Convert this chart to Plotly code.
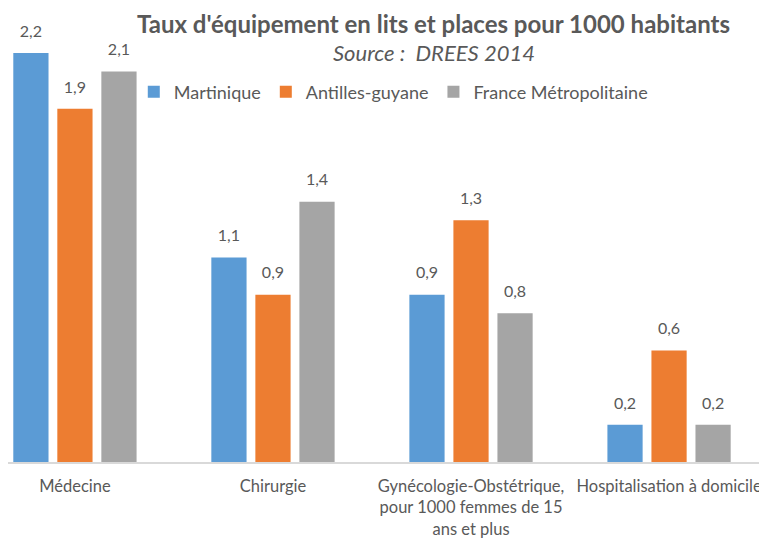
import plotly.graph_objects as go

# catégories et valeurs (lits et places pour 1000 habitants)
categories = ["Médecine", "Chirurgie",
              "Gynécologie-Obstétrique,<br>pour 1000 femmes de 15<br>ans et plus",
              "Hospitalisation à domicile"]
martinique = [2.2, 1.1, 0.9, 0.2]
antilles_guyane = [1.9, 0.9, 1.3, 0.6]
france_metro = [2.1, 1.4, 0.8, 0.2]

series = [("Martinique", martinique, "#5B9BD5"),
          ("Antilles-guyane", antilles_guyane, "#ED7D31"),
          ("France Métropolitaine", france_metro, "#A5A5A5")]

font_family = "Lato, 'Open Sans', sans-serif"
text_grey = "#595959"

fig = go.Figure()
for name, vals, color in series:
    fig.add_trace(go.Bar(
        x=categories, y=vals, name=name,
        marker=dict(color=color, line=dict(width=0)),
        hoverinfo="x+y+name",
    ))

# étiquettes de valeurs un peu au-dessus des barres (scatter groupé comme les barres)
for name, vals, color in series:
    fig.add_trace(go.Scatter(
        x=categories, y=vals, mode="markers+text",
        text=[f"{v:.1f}".replace(".", ",") for v in vals],
        textposition="top center",
        textfont=dict(size=16, color=text_grey, family=font_family),
        marker=dict(size=18, opacity=0),
        showlegend=False, hoverinfo="skip", cliponaxis=False,
    ))

# la page html a une marge de 8px, on compense dans les plages d'axes
fig.update_layout(
    width=767, height=540,
    margin=dict(l=0, r=0, t=0, b=86),
    plot_bgcolor="white", paper_bgcolor="white",
    font=dict(family=font_family, color=text_grey, size=16),
    barmode="group", bargap=0.333, bargroupgap=0.2,
    scattermode="group", scattergap=0.333,
    showlegend=True,
    legend=dict(orientation="h", x=0.164, y=0.815, xanchor="left", yanchor="middle",
                font=dict(size=18, color=text_grey), bgcolor="rgba(0,0,0,0)"),
    annotations=[
        dict(text="<b>Taux d'équipement en lits et places pour 1000 habitants</b>",
             x=0.555, y=0.965, xref="paper", yref="paper", showarrow=False,
             yanchor="middle", font=dict(size=24, color=text_grey)),
        dict(text="<i>Source :  DREES 2014</i>",
             x=0.555, y=0.901, xref="paper", yref="paper", showarrow=False,
             yanchor="middle", font=dict(size=22, color=text_grey)),
    ],
)
fig.update_xaxes(range=[-0.338, 3.535], showline=True, linecolor="#D9D9D9", linewidth=2,
                 ticks="outside", ticklen=8, tickcolor="rgba(0,0,0,0)",
                 tickfont=dict(size=16.5, color=text_grey), showgrid=False)
fig.update_yaxes(range=[0, 2.442], visible=False)

fig.write_html("out.html")
